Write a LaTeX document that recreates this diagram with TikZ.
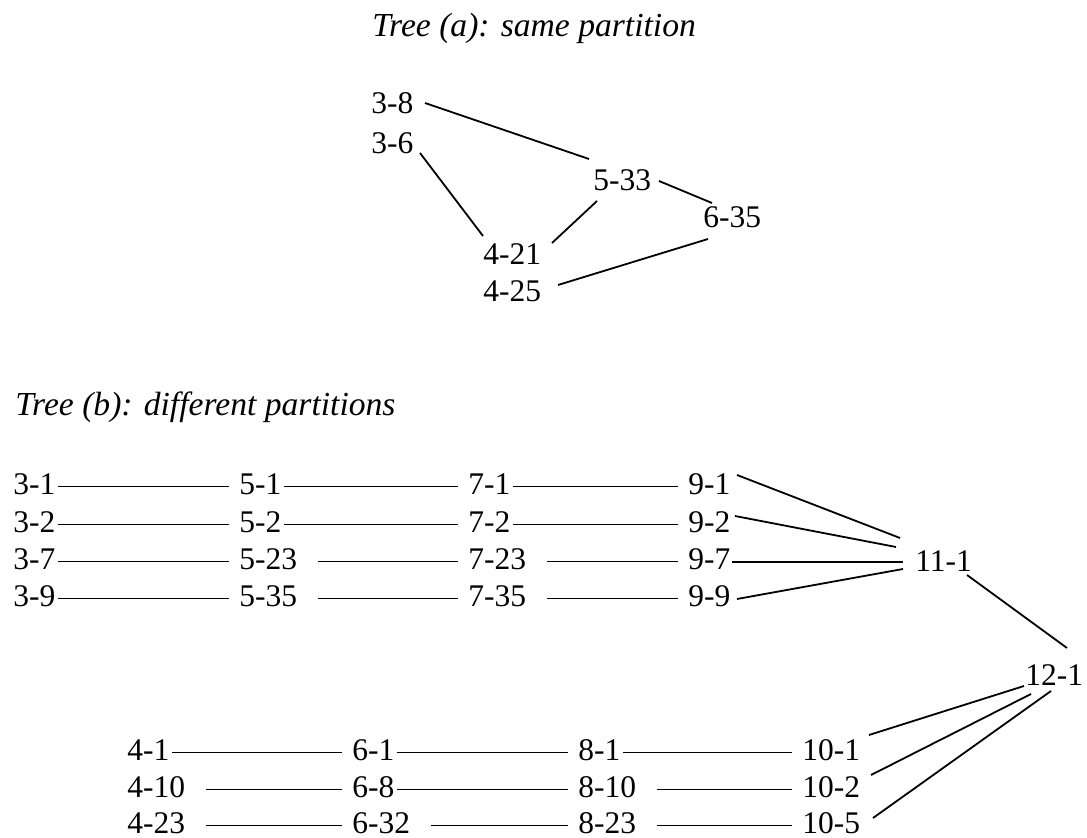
\documentclass[tikz,border=0pt]{standalone}
\usepackage{fontspec}
\setmainfont{Liberation Serif}

\begin{document}
\begin{tikzpicture}[x=0.5pt, y=-0.5pt,
  lbl/.style={anchor=base west, inner sep=0pt, text height=8.5pt, text depth=0pt,
              font=\fontsize{15.75}{18}\selectfont},
  ttl/.style={anchor=base west, inner sep=0pt, font=\fontsize{16.8}{19}\selectfont\itshape},
  edge/.style={line width=0.9pt},
  link/.style={edge, shorten <=1pt, shorten >=5pt},
  gaplink/.style={edge, shorten <=10pt, shorten >=5pt}]

  \useasboundingbox (0,0) rectangle (1087,838);

  % ---- Tree (a) ----
  \node[ttl] (ttla) at (372,37) {Tree (a): same partition};

  \node[lbl] (a38)  at (371,114) {3-8};
  \node[lbl] (a36)  at (371,154) {3-6};
  \node[lbl] (a533) at (593,191) {5-33};
  \node[lbl] (a635) at (703,228) {6-35};
  \node[lbl] (a421) at (483,265) {4-21};
  \node[lbl] (a425) at (483,302) {4-25};

  \draw[edge] ([shift={(54,-11)}]a38.base west) -- ([shift={(-4,-32)}]a533.base west);
  \draw[edge] ([shift={(49,-1)}]a36.base west) -- ([shift={(0,-29)}]a421.base west);
  \draw[edge] ([shift={(69,-22)}]a421.base west) -- ([shift={(4,10)}]a533.base west);
  \draw[edge] ([shift={(66,-10)}]a533.base west) -- ([shift={(9,-25)}]a635.base west);
  \draw[edge] ([shift={(75,-17)}]a425.base west) -- ([shift={(5,11)}]a635.base west);

  % ---- Tree (b) ----
  \node[ttl] (ttlb) at (15,416) {Tree (b): different partitions};

  % upper branch: columns 3, 5, 7, 9
  \foreach \n/\t/\x/\y in {31/3-1/13/495, 51/5-1/239/495, 71/7-1/468/495, 91/9-1/688/495,
                           32/3-2/13/533, 52/5-2/239/533, 72/7-2/468/533, 92/9-2/688/533,
                           37/3-7/13/570, 523/5-23/239/570, 723/7-23/468/570, 97/9-7/688/570,
                           39/3-9/13/607, 535/5-35/239/607, 735/7-35/468/607, 99/9-9/688/607}
    \node[lbl] (p\n) at (\x,\y) {\t};

  % lower branch: columns 4, 6, 8, 10
  \foreach \n/\t/\x/\y in {41/4-1/127/761, 61/6-1/352/761, 81/8-1/578/761, 101/10-1/802/761,
                           410/4-10/127/798, 68/6-8/352/798, 810/8-10/578/798, 102/10-2/802/798,
                           423/4-23/127/834, 632/6-32/352/834, 823/8-23/578/834, 105/10-5/802/834}
    \node[lbl] (q\n) at (\x,\y) {\t};

  \node[lbl] (p111) at (915,572) {11-1};
  \node[lbl] (q121) at (1025,686) {12-1};

  % horizontal links
  \foreach \a/\b in {31/51, 51/71, 71/91, 32/52, 52/72, 72/92, 37/523, 39/535}
    \draw[link] (p\a.east) -- (p\b.west);
  \foreach \a/\b in {523/723, 723/97, 535/735, 735/99}
    \draw[gaplink] (p\a.east) -- (p\b.west);
  \foreach \a/\b in {41/61, 61/81, 81/101, 68/810}
    \draw[link] (q\a.east) -- (q\b.west);
  \foreach \a/\b in {410/68, 810/102, 423/632, 632/823, 823/105}
    \draw[gaplink] (q\a.east) -- (q\b.west);

  % joins into 11-1 and 12-1
  \draw[edge] ([shift={(49,-20)}]p91.base west) -- ([shift={(-15,-34)}]p111.base west);
  \draw[edge] ([shift={(47,-17)}]p92.base west) -- ([shift={(-19,-25)}]p111.base west);
  \draw[edge] ([shift={(44,-8)}]p97.base west) -- ([shift={(-12,-10)}]p111.base west);
  \draw[edge] ([shift={(49,-8)}]p99.base west) -- ([shift={(-12,-3)}]p111.base west);
  \draw[edge] ([shift={(52,3)}]p111.base west) -- ([shift={(42,-38)}]q121.base west);
  \draw[edge] ([shift={(67,-26)}]q101.base west) -- ([shift={(-1,0)}]q121.base west);
  \draw[edge] ([shift={(69,-23)}]q102.base west) -- ([shift={(6,8)}]q121.base west);
  \draw[edge] ([shift={(71,-16)}]q105.base west) -- ([shift={(26,5)}]q121.base west);

\end{tikzpicture}
\end{document}
